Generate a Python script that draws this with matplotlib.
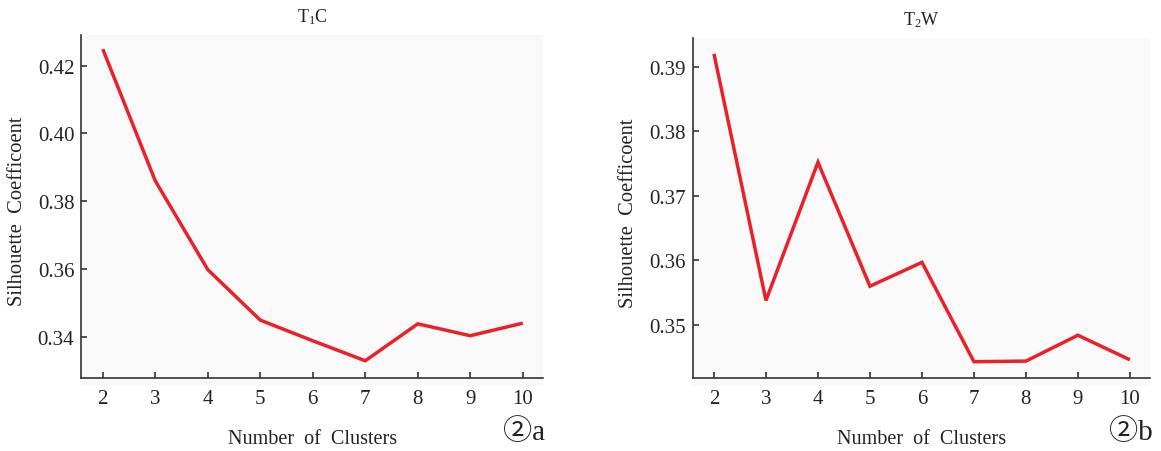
import numpy as np
import matplotlib
matplotlib.use('Agg')
import matplotlib.pyplot as plt

plt.rcParams['font.family'] = ['Liberation Serif', 'DejaVu Sans']
plt.rcParams['mathtext.fontset'] = 'custom'
plt.rcParams['mathtext.rm'] = 'Liberation Serif'
plt.rcParams['mathtext.it'] = 'Liberation Serif:italic'

# data
clusters = [2, 3, 4, 5, 6, 7, 8, 9, 10]
t1c_scores = [0.4249, 0.3860, 0.3598, 0.3449, 0.3388, 0.3329, 0.3438, 0.3403, 0.3440]
t2w_scores = [0.3920, 0.3538, 0.3752, 0.3560, 0.3597, 0.3443, 0.3444, 0.3484, 0.3446]

t1c_yticks = [0.34, 0.36, 0.38, 0.40, 0.42]
t2w_yticks = [0.35, 0.36, 0.37, 0.38, 0.39]

text_color = '#222222'
line_color = '#e8222a'

fig = plt.figure(figsize=(11.61, 4.52), dpi=100)

panels = [
    # rect, values, yticks, ylim, spine bottom, title, tag
    ([0.0700, 0.1438, 0.3979, 0.7765], t1c_scores, t1c_yticks, (0.32545, 0.42906), 0.32781, r'T$_1$C', '②a'),
    ([0.5966, 0.1438, 0.3941, 0.7699], t2w_scores, t2w_yticks, (0.34054, 0.39445), 0.34178, r'T$_2$W', '②b'),
]

for rect, scores, yticks, ylim, spine_lo, title, tag in panels:
    ax = fig.add_axes(rect)
    ax.set_facecolor('#f9f9f9')
    ax.plot(clusters, scores, color=line_color, lw=2.5,
            solid_joinstyle='miter', solid_capstyle='butt')
    ax.set_xlim(1.59, 10.39)
    ax.set_ylim(*ylim)
    ax.set_xticks(clusters)
    ax.set_yticks(yticks)
    ax.set_yticklabels([f'{v:.2f}' for v in yticks])

    for s in ['top', 'right']:
        ax.spines[s].set_visible(False)
    ax.spines['bottom'].set_position(('outward', -5.8))
    ax.spines['left'].set_bounds(spine_lo, ylim[1])
    for s in ['left', 'bottom']:
        ax.spines[s].set_color('#333333')
        ax.spines[s].set_linewidth(1.2)

    ax.tick_params(axis='x', direction='in', length=4, width=1.1, pad=8,
                   labelsize=15, colors=text_color)
    ax.tick_params(axis='y', direction='in', length=4, width=1.1, pad=5,
                   labelsize=15, colors=text_color)

    ax.set_title(title, fontsize=13, color=text_color, pad=10)
    ax.set_xlabel('Number  of  Clusters', fontsize=14.5, color=text_color, labelpad=15)
    ax.set_ylabel('Silhouette  Coefficoent', fontsize=14.8, color=text_color, labelpad=8)

    # panel tag, circled digit from the CJK font
    ax.text(1.005, -0.131, tag, transform=ax.transAxes, ha='right', va='center',
            fontsize=21, color=text_color,
            family=['Liberation Serif', 'Noto Sans CJK SC', 'DejaVu Sans'])

fig.savefig('out.png', dpi=100)
